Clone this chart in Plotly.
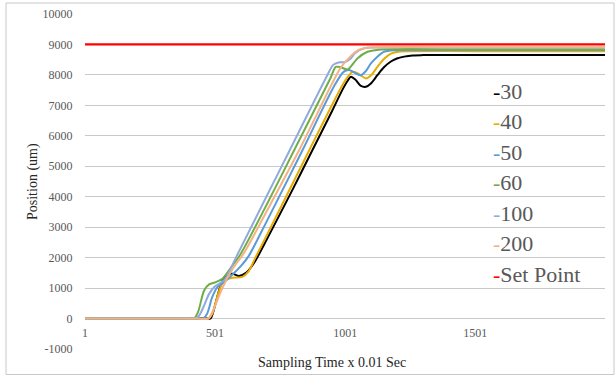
import plotly.graph_objects as go

# ---- data (sample index, position in um) ----
names = ["30", "40", "50", "60", "100", "200"]
colors = ["#000000", "#E6AC00", "#5B9BD5", "#70AD47", "#8FAADC", "#F4B183"]

s30 = [1, 150, 300, 420, 470, 484, 500, 516, 530, 542, 568, 593, 620, 645, 666, 700, 800, 875, 950, 990, 1010, 1023, 1040, 1060, 1081, 1100, 1125, 1150, 1177, 1200, 1228, 1260, 1300, 1500, 1750, 2000]
v30 = [0, 0, 0, 0, 0, 0, 400, 920, 1250, 1415, 1470, 1400, 1500, 1750, 2050, 2600, 4250, 5526, 6800, 7500, 7800, 7940, 7850, 7650, 7610, 7720, 7990, 8250, 8440, 8540, 8600, 8640, 8650, 8650, 8650, 8650]

s40 = [1, 150, 300, 420, 475, 490, 516, 536, 568, 606, 630, 656, 700, 863, 960, 1000, 1029, 1050, 1081, 1100, 1125, 1150, 1177, 1210, 1250, 1500, 1750, 2000]
v40 = [0, 0, 0, 0, 0, 150, 900, 1250, 1340, 1370, 1550, 2000, 2740, 5526, 7170, 7800, 8100, 8050, 7885, 7980, 8265, 8520, 8700, 8770, 8780, 8780, 8780, 8780]

s50 = [1, 150, 300, 410, 455, 470, 490, 510, 536, 565, 600, 630, 700, 837, 960, 995, 1016, 1040, 1061, 1080, 1100, 1125, 1151, 1190, 1230, 1500, 1750, 2000]
v50 = [0, 0, 0, 0, 0, 150, 700, 1030, 1195, 1420, 1720, 2050, 3200, 5526, 7650, 8100, 8160, 8060, 7990, 8120, 8375, 8600, 8760, 8810, 8815, 8815, 8815, 8815]

s60 = [1, 150, 300, 390, 420, 435, 459, 478, 504, 529, 560, 598, 700, 805, 945, 965, 984, 1010, 1030, 1048, 1087, 1130, 1500, 1750, 2000]
v60 = [0, 0, 0, 0, 0, 200, 920, 1120, 1195, 1305, 1650, 2100, 3750, 5526, 7900, 8265, 8250, 8180, 8350, 8540, 8760, 8830, 8840, 8840, 8840]

s100 = [1, 150, 300, 390, 425, 440, 460, 478, 500, 516, 540, 581, 700, 788, 930, 955, 975, 1000, 1020, 1040, 1074, 1110, 1500, 1750, 2000]
v100 = [0, 0, 0, 0, 0, 100, 450, 810, 1050, 1140, 1300, 2000, 4030, 5526, 7950, 8330, 8410, 8420, 8520, 8720, 8870, 8900, 8900, 8900, 8900]

s200 = [1, 150, 300, 420, 475, 490, 529, 570, 612, 700, 824, 950, 985, 1016, 1048, 1087, 1130, 1500, 1750, 2000]
v200 = [0, 0, 0, 0, 0, 200, 1000, 1650, 2150, 3530, 5526, 7700, 8250, 8560, 8800, 8890, 8910, 8910, 8910, 8910]

set_point_name = "Set Point"
set_point_color = "#FF0000"
s_sp = [1, 2000]
v_sp = [9000, 9000]

x_ticks = [1, 501, 1001, 1501]
y_ticks = list(range(-1000, 10001, 1000))

xs = [s30, s40, s50, s60, s100, s200]
vs = [v30, v40, v50, v60, v100, v200]

FONT = "Liberation Serif, Times New Roman, serif"
GRID = "#C9C9C9"

fig = go.Figure()
for name, c, x, y in zip(names, colors, xs, vs):
    fig.add_trace(go.Scatter(x=x, y=y, mode="lines", name=name,
                             line=dict(color=c, width=2, shape="spline", smoothing=0.8)))
fig.add_trace(go.Scatter(x=s_sp, y=v_sp, mode="lines", name=set_point_name, xaxis="x2",
                         line=dict(color=set_point_color, width=2.2)))

W, H = 616, 376
L, R, T, B = 85, 11, 14, 27
pw, ph = W - L - R, H - T - B

def px(xp):
    return (xp - L) / pw

def py(yp):
    return (H - B - yp) / ph

ymin, ymax = -1000, 10000
xmin, xmax = 1, 2000

fig.update_layout(
    template="none",
    width=W, height=H,
    margin=dict(l=L, r=R, t=T, b=B, pad=0),
    paper_bgcolor="white", plot_bgcolor="white",
    showlegend=False,
    font=dict(family=FONT, color="#595959", size=12),
    xaxis=dict(range=[xmin, xmax], showticklabels=False, showgrid=False, zeroline=False,
               showline=False, ticks=""),
    xaxis2=dict(range=[xmin, xmax], overlaying="x", anchor="free", position=(0 - ymin) / (ymax - ymin),
                side="bottom", tickvals=x_ticks, ticktext=[str(v) for v in x_ticks],
                showgrid=False, zeroline=False, showline=False,
                ticks="outside", ticklen=3, tickcolor="rgba(0,0,0,0)",
                tickfont=dict(family=FONT, size=12, color="#595959")),
    yaxis=dict(range=[ymin, ymax], tickvals=y_ticks, ticktext=[str(v) for v in y_ticks],
               showgrid=True, gridcolor=GRID, gridwidth=1,
               zeroline=False, showline=False, ticks="outside", ticklen=9,
               tickcolor="rgba(0,0,0,0)", tickfont=dict(family=FONT, size=12, color="#595959")),
)

annotations = []
# axis titles
annotations.append(dict(text="Sampling Time x 0.01 Sec", xref="paper", yref="paper",
                        x=px(332), y=py(362), xanchor="center", yanchor="middle", showarrow=False,
                        font=dict(family=FONT, size=14, color="#262626")))
annotations.append(dict(text="Position (um)", xref="paper", yref="paper", textangle=-90,
                        x=px(33), y=py(182), xanchor="center", yanchor="middle", showarrow=False,
                        font=dict(family=FONT, size=14, color="#262626")))
# legend (manual, Excel-style short dashes)
leg_names = names + [set_point_name]
leg_colors = colors + [set_point_color]
for i, (n, c) in enumerate(zip(leg_names, leg_colors)):
    annotations.append(dict(text=f"<span style='color:{c}'>-</span>{n}", xref="paper", yref="paper",
                            x=px(491), y=py(91 + i * 30.5), xanchor="left", yanchor="middle",
                            showarrow=False, font=dict(family=FONT, size=22, color="#595959")))
fig.update_layout(annotations=annotations)

fig.add_shape(type="rect", xref="paper", yref="paper", x0=px(6), x1=px(614), y0=py(374.5), y1=py(3),
              line=dict(color="#C8C8C8", width=1), fillcolor="rgba(0,0,0,0)")

fig.write_html("out.html", config={"displayModeBar": False},
               post_script="document.body.style.margin='0';document.body.style.overflow='hidden';")
